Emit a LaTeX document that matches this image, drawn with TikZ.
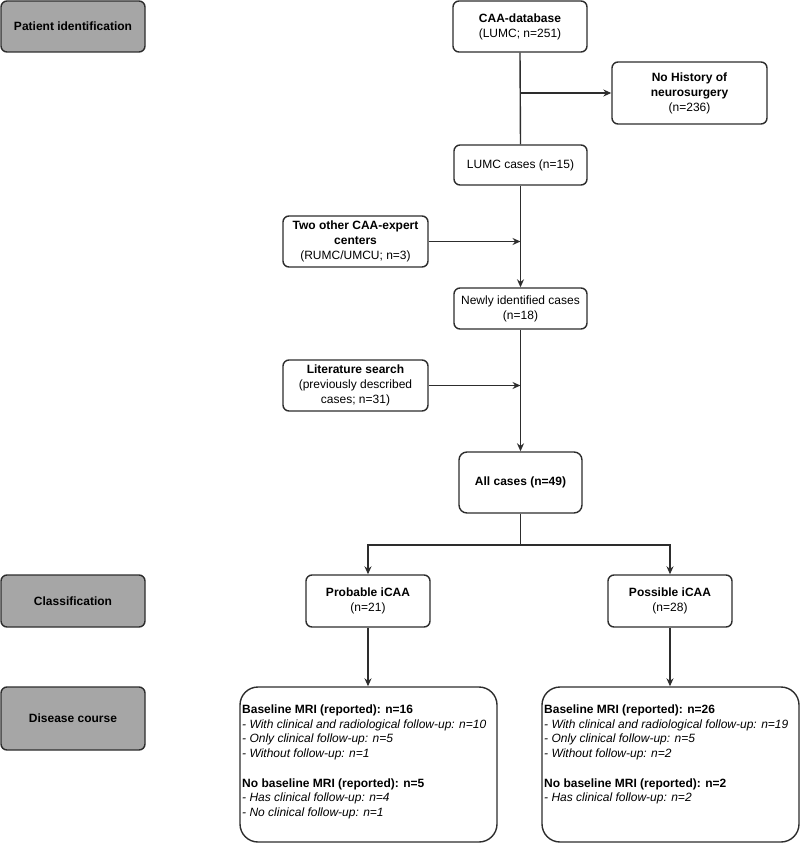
\documentclass[tikz,border=0pt]{standalone}
\usepackage{fontspec}
\setmainfont{Liberation Sans}
\usetikzlibrary{arrows.meta}
\definecolor{linegray}{RGB}{45,45,45}
\definecolor{stagegray}{RGB}{166,166,166}
\tikzset{
  box/.style={draw=linegray, line width=1.4pt, rounded corners=6pt, fill=white,
    align=center, inner sep=2pt, font=\fontsize{12}{15}\selectfont},
  stagebox/.style={box, fill=stagegray, minimum width=144pt, font=\fontsize{12}{15}\selectfont\bfseries},
  countbox/.style={box, rounded corners=18pt, minimum width=257pt, minimum height=155pt},
  listtext/.style={anchor=north west, inner sep=0pt, align=left, font=\fontsize{12}{14.5}\selectfont},
  flow/.style={draw=linegray, line width=1.4pt},
}
\begin{document}
\begin{tikzpicture}[>={Stealth[length=8pt,width=7pt]}, x=1pt, y=-1pt]
    \useasboundingbox (0,0) rectangle (800,843);
    % stages
    \node [stagebox, minimum height=51pt] (pid) at (73,26.5) {Patient identification};
    \node [stagebox, minimum height=52pt] (cls) at (73,601) {Classification};
    \node [stagebox, minimum height=63pt] (dis) at (73,718.5) {Disease course};
    % identification
    \node [box, minimum width=134pt, minimum height=51pt] (caa) at (520,26.5) {\textbf{CAA-database}\\(LUMC; n=251)};
    \node [box, minimum width=155pt, minimum height=62pt] (nohist) at (689.5,93) {\textbf{No History of}\\\textbf{neurosurgery}\\(n=236)};
    \node [box, minimum width=133pt, minimum height=40pt] (lumc) at (520.5,165) {LUMC cases (n=15)};
    \node [box, minimum width=145pt, minimum height=51pt] (two) at (355.5,241.5) {\textbf{Two other CAA-expert}\\\textbf{centers}\\(RUMC/UMCU; n=3)};
    \node [box, minimum width=133pt, minimum height=41pt] (newly) at (520.5,308.5) {Newly identified cases\\(n=18)};
    \node [box, minimum width=145pt, minimum height=51pt] (lit) at (355.5,385.5) {\textbf{Literature search}\\(previously described\\cases; n=31)};
    \node [box, minimum width=123pt, minimum height=61pt, rounded corners=8pt] (all) at (520.5,482.5) {\textbf{All cases (n=49)}};
    % classification
    \node [box, minimum width=124pt, minimum height=52pt] (prob) at (368,601) {\textbf{Probable iCAA}\\(n=21)};
    \node [box, minimum width=124pt, minimum height=52pt] (poss) at (670,601) {\textbf{Possible iCAA}\\(n=28)};
    % disease course
    \node [countbox] (probmri) at (368.5,764.5) {};
    \node [countbox] (possmri) at (670.5,764.5) {};
    \node [listtext] (probbase) at (242,705) {\textbf{Baseline MRI (reported): n=16}\\
      \textit{- With clinical and radiological follow-up: n=10}\\
      \textit{- Only clinical follow-up: n=5}\\
      \textit{- Without follow-up: n=1}};
    \node [listtext] (probnone) at (242,778.5) {\textbf{No baseline MRI (reported): n=5}\\
      \textit{- Has clinical follow-up: n=4}\\
      \textit{- No clinical follow-up: n=1}};
    \node [listtext] (possbase) at (544,705) {\textbf{Baseline MRI (reported): n=26}\\
      \textit{- With clinical and radiological follow-up: n=19}\\
      \textit{- Only clinical follow-up: n=5}\\
      \textit{- Without follow-up: n=2}};
    \node [listtext] (possnone) at (544,778.5) {\textbf{No baseline MRI (reported): n=2}\\
      \textit{- Has clinical follow-up: n=2}};
    % junctions
    \coordinate (j1) at (caa.south |- nohist.west);
    \coordinate (j2) at (lumc.south |- two.east);
    \coordinate (j3) at (newly.south |- lit.east);
    \coordinate (split) at (520.5,545);
    % connectors
    \draw [flow] (caa.south) -- (lumc.north);
    \draw [flow, ->] (j1) -- (nohist.west);
    \draw [flow, ->] (lumc.south) -- (newly.north);
    \draw [flow, ->] (two.east) -- (j2);
    \draw [flow, ->] (newly.south) -- (all.north);
    \draw [flow, ->] (lit.east) -- (j3);
    \draw [flow] (all.south) -- (split);
    \draw [flow, <->] (prob.north) |- (split) -| (poss.north);
    \draw [flow, ->] (prob.south) -- (probmri.north -| prob.south);
    \draw [flow, ->] (poss.south) -- (possmri.north -| poss.south);
\end{tikzpicture}
\end{document}
